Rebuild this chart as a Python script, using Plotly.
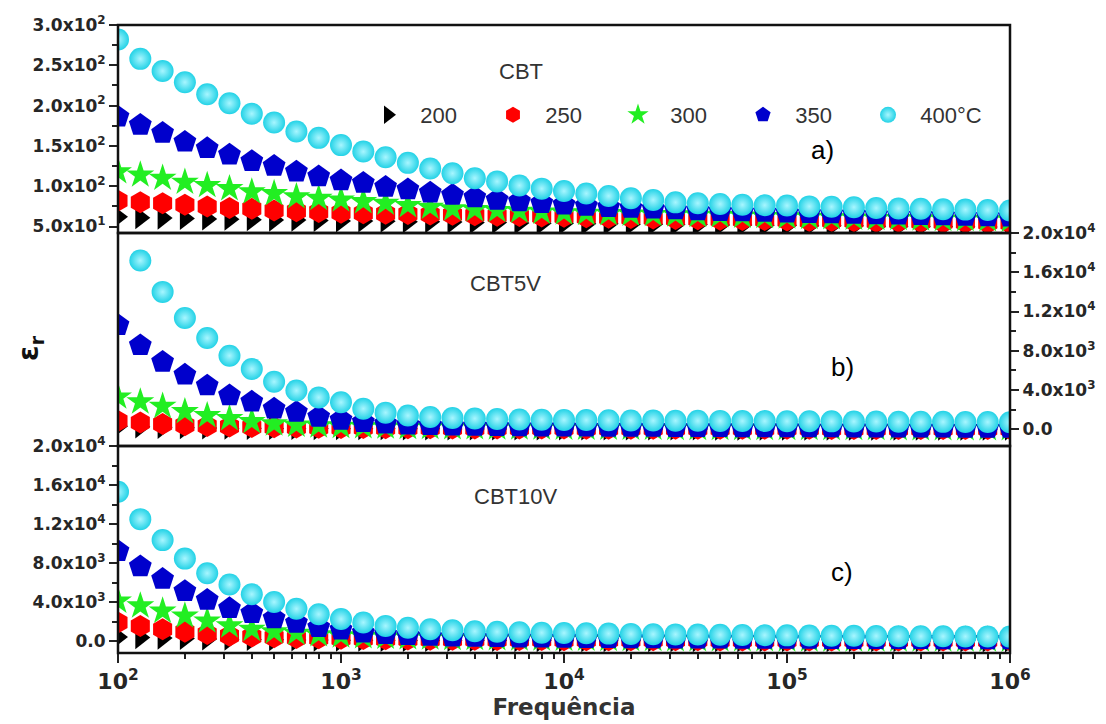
import plotly.graph_objects as go

# ---------------- data ----------------
freq = [100, 125.9, 158.5, 199.5, 251.2, 316.2, 398.1, 501.2, 631.0, 794.3,
        1000, 1259, 1585, 1995, 2512, 3162, 3981, 5012, 6310, 7943,
        10000, 12589, 15849, 19953, 25119, 31623, 39811, 50119, 63096, 79433,
        100000, 125893, 158489, 199526, 251189, 316228, 398107, 501187, 630957, 794328,
        1000000]

temps = ["200", "250", "300", "350", "400°C"]

# panel a) CBT
a200 = [62, 61, 60.5, 60, 59.5, 59, 58.5, 58, 58, 57.5, 57, 57, 56.5, 56, 56, 55.5, 55, 55, 54.5, 54,
        54, 53.5, 53.5, 53, 53, 52.5, 52.5, 52, 52, 51.5, 51.5, 51, 51, 51, 50.5, 50.5, 50, 50, 50, 49.5, 49.5]
a250 = [82, 80, 79, 77, 75, 73, 72, 70, 69, 68, 67, 66.5, 66, 65.5, 65, 64.5, 64, 63.5, 63, 62.5,
        62, 61.5, 61, 60.5, 60, 59.5, 59, 58.5, 58, 58, 57.5, 57, 57, 56.5, 56, 56, 55.5, 55, 55, 54.5, 54]
a300 = [118, 114, 110, 105, 101, 97, 93, 91, 87, 85, 83, 81, 79, 76, 74, 72, 71, 70, 69, 68,
        67, 66.5, 66, 65.5, 65, 64.5, 64, 63.5, 63, 62.5, 62, 61.5, 61, 60.5, 60, 60, 59.5, 59, 59, 58.5, 58]
a350 = [186, 176, 166, 155, 147, 139, 131, 125, 118, 112, 107, 104, 99, 96, 92, 89, 86, 83, 81, 79,
        77, 75.5, 74, 73, 72, 71, 70, 69, 68.5, 68, 67, 66.5, 66, 65.5, 65, 64.5, 64, 63.5, 63, 62.5, 62]
a400 = [282, 258, 243, 229, 214, 203, 190, 179, 168, 160, 151, 143, 136, 129, 122, 116, 110, 106, 101, 97,
        94, 91, 88, 85, 83, 80, 79, 78, 77, 76.5, 76, 75, 74.5, 74, 73, 72.5, 72, 71.5, 71, 70.5, 70]

# panel b) CBT5V
b200 = [300, 250, 200, 170, 140, 120, 100, 90, 80, 72, 65, 60, 55, 50, 46, 43, 40, 38, 36, 34,
        32, 30, 29, 28, 27, 26, 25, 24, 23, 22, 21, 20, 20, 19, 19, 18, 18, 17, 17, 16, 16]
b250 = [850, 700, 550, 420, 340, 280, 240, 200, 180, 160, 145, 130, 120, 110, 100, 95, 90, 85, 80, 76,
        72, 68, 65, 62, 60, 58, 56, 54, 52, 50, 48, 46, 45, 44, 43, 42, 41, 40, 39, 38, 37]
b300 = [3300, 2800, 2350, 1800, 1400, 1100, 800, 560, 430, 360, 310, 270, 240, 210, 190, 175, 165, 155, 145, 140,
        135, 130, 125, 120, 115, 110, 105, 100, 98, 96, 94, 92, 90, 88, 86, 84, 82, 80, 78, 76, 74]
b350 = [10600, 8550, 6850, 5550, 4450, 3450, 2800, 2100, 1750, 1250, 950, 720, 560, 470, 410, 370, 340, 310, 290, 270,
        260, 250, 240, 230, 220, 210, 200, 195, 190, 185, 180, 175, 170, 165, 160, 155, 150, 145, 140, 135, 130]
b400 = [22000, 17200, 14000, 11350, 9300, 7500, 6150, 4850, 3950, 3250, 2750, 2100, 1700, 1400, 1250, 1150, 1100, 1050, 1000, 980,
        960, 940, 920, 900, 890, 880, 870, 860, 850, 840, 830, 820, 810, 800, 790, 780, 770, 760, 750, 740, 730]

# panel c) CBT10V
c200 = [400, 350, 300, 250, 210, 180, 150, 130, 110, 95, 85, 75, 68, 62, 56, 52, 48, 45, 42, 40,
        38, 36, 34, 32, 30, 29, 28, 27, 26, 25, 24, 23, 22, 21, 20, 20, 19, 19, 18, 18, 17]
c250 = [1900, 1550, 1200, 950, 710, 550, 450, 380, 320, 270, 230, 200, 175, 155, 140, 130, 120, 110, 100, 95,
        90, 85, 80, 76, 72, 68, 65, 62, 60, 58, 56, 54, 52, 50, 48, 47, 46, 45, 44, 43, 42]
c300 = [4100, 3600, 3070, 2570, 2060, 1550, 1200, 950, 800, 650, 540, 460, 400, 350, 310, 280, 260, 240, 225, 210,
        200, 190, 180, 170, 160, 155, 150, 145, 140, 135, 130, 125, 120, 118, 116, 114, 112, 110, 108, 106, 104]
c350 = [9200, 7650, 6350, 5100, 4200, 3350, 2850, 2300, 1850, 1400, 1150, 850, 700, 580, 500, 440, 400, 370, 340, 320,
        300, 285, 270, 260, 250, 240, 230, 220, 210, 200, 195, 190, 185, 180, 175, 170, 165, 160, 155, 150, 145]
c400 = [15300, 12500, 10350, 8450, 6950, 5800, 4800, 4000, 3300, 2750, 2250, 1900, 1550, 1350, 1200, 1100, 1000, 950, 900, 850,
        820, 790, 760, 730, 700, 680, 660, 640, 620, 600, 580, 560, 545, 530, 515, 500, 490, 480, 470, 460, 450]

panel_labels = ["CBT", "CBT5V", "CBT10V"]
letters = ["a)", "b)", "c)"]

ya_ticks = [50, 100, 150, 200, 250, 300]
ya_text = ["5.0x10<sup>1</sup>", "1.0x10<sup>2</sup>", "1.5x10<sup>2</sup>",
           "2.0x10<sup>2</sup>", "2.5x10<sup>2</sup>", "3.0x10<sup>2</sup>"]
ybc_ticks = [0, 4000, 8000, 12000, 16000, 20000]
ybc_text = ["0.0", "4.0x10<sup>3</sup>", "8.0x10<sup>3</sup>", "1.2x10<sup>4</sup>",
            "1.6x10<sup>4</sup>", "2.0x10<sup>4</sup>"]
x_ticks = [1e2, 1e3, 1e4, 1e5, 1e6]
x_text = ["10<sup>2</sup>", "10<sup>3</sup>", "10<sup>4</sup>", "10<sup>5</sup>", "10<sup>6</sup>"]
x_minor = [m * 10 ** e for e in (2, 3, 4, 5) for m in (2, 3, 4, 5, 6, 7, 8, 9)]

# ---------------- styling ----------------
W, H = 1106, 724
L, R, T, B = 118, 96, 25, 71
PW, PH = W - L - R, H - T - B

def px(x):
    return (x - L) / PW

def py(y):
    return (H - B - y) / PH

styles = [
    dict(symbol="triangle-right", color="#000000", size=20),
    dict(symbol="hexagon", color="#ff0000", size=22),
    dict(symbol="star", color="#22ee22", size=21),
    dict(symbol="pentagon", color="#0000cc", size=24),
    dict(symbol="circle", color="#22d2e6", size=22, gradient=dict(type="radial", color="#a8f6ff")),
]

panels = [("y", [a200, a250, a300, a350, a400]),
          ("y2", [b200, b250, b300, b350, b400]),
          ("y3", [c200, c250, c300, c350, c400])]

fig = go.Figure()
for pi, (yax, series) in enumerate(panels):
    for si, vals in enumerate(series):
        st = styles[si]
        mk = dict(symbol=st["symbol"], color=st["color"], size=st["size"], line=dict(width=0))
        if "gradient" in st:
            mk["gradient"] = st["gradient"]
        fig.add_trace(go.Scatter(
            x=freq, y=vals, mode="markers", marker=mk, name="\u00a0\u00a0" + temps[si],
            xaxis="x", yaxis=yax, showlegend=(pi == 0), legendgroup=temps[si],
            cliponaxis=True))

tickfont_y = dict(family="DejaVu Sans", size=17, color="#262626", weight="bold")
common_y = dict(showgrid=False, zeroline=False, ticks="outside", ticklen=8, tickwidth=2,
                tickcolor="#222", showline=False, tickfont=tickfont_y, anchor="x")

dom_c = [0, 0.3296]
dom_b = [0.3296, 0.6688]
dom_a = [0.6688, 1]

fig.update_layout(
    width=W, height=H,
    margin=dict(l=L, r=R, t=T, b=B),
    paper_bgcolor="white", plot_bgcolor="white",
    font=dict(family="Liberation Sans, Arial, sans-serif", color="#333"),
    xaxis=dict(type="log", range=[2, 6], anchor="y3", showgrid=False, zeroline=False,
               ticks="outside", ticklen=9, tickwidth=2, tickcolor="#222",
               tickvals=x_ticks, ticktext=x_text,
               tickfont=dict(family="DejaVu Sans", size=22, color="#262626", weight="bold"),
               minor=dict(ticks="outside", ticklen=5, tickwidth=1.5, tickcolor="#222", tickvals=x_minor),
               title=dict(text="Frequência", standoff=2,
                          font=dict(family="DejaVu Sans", size=23, color="#333", weight="bold"))),
    yaxis=dict(domain=dom_a, range=[42, 300], tickvals=ya_ticks, ticktext=ya_text,
               minor=dict(ticks="outside", ticklen=5, tickwidth=1.5, tickcolor="#222", dtick=25, tick0=0),
               side="left", **common_y),
    yaxis2=dict(domain=dom_b, range=[-1700, 20000], tickvals=ybc_ticks, ticktext=ybc_text,
                minor=dict(ticks="outside", ticklen=5, tickwidth=1.5, tickcolor="#222", dtick=2000, tick0=0),
                side="right", **common_y),
    yaxis3=dict(domain=dom_c, range=[-1230, 20000], tickvals=ybc_ticks, ticktext=ybc_text,
                minor=dict(ticks="outside", ticklen=5, tickwidth=1.5, tickcolor="#222", dtick=2000, tick0=0),
                side="left", **common_y),
    legend=dict(orientation="h", x=px(368), xanchor="left", y=py(115), yanchor="middle",
                bgcolor="rgba(0,0,0,0)", font=dict(family="Liberation Sans, Arial", size=22, color="#333"),
                entrywidth=80, entrywidthmode="pixels", itemsizing="trace", tracegroupgap=0),
)

shapes = []
for yref in ("y", "y2", "y3"):
    shapes.append(dict(type="rect", xref="x domain", yref=yref + " domain", x0=0, x1=1, y0=0, y1=1,
                       line=dict(color="#111", width=2.5), layer="above"))
fig.update_layout(shapes=shapes)

ann = [
    dict(text=panel_labels[0], x=px(521), y=py(71), size=22),
    dict(text=panel_labels[1], x=px(505), y=py(283), size=22),
    dict(text=panel_labels[2], x=px(515), y=py(496), size=22),
]
for a in ann:
    fig.add_annotation(text=a["text"], x=a["x"], y=a["y"], xref="paper", yref="paper",
                       xanchor="center", yanchor="middle", showarrow=False,
                       font=dict(family="Liberation Sans, Arial", size=a["size"], color="#333"))
for txt, (xx, yy) in zip(letters, [(822, 150), (842, 367), (842, 572)]):
    fig.add_annotation(text=txt, x=px(xx), y=py(yy), xref="paper", yref="paper", showarrow=False,
                       xanchor="center", yanchor="middle",
                       font=dict(family="Liberation Sans Narrow, Liberation Sans, Arial", size=26, color="#000"))
fig.add_annotation(text="ε<sub>r</sub>", x=px(30), y=py(348), xref="paper", yref="paper", showarrow=False,
                   xanchor="center", yanchor="middle",
                   textangle=-90, font=dict(family="DejaVu Sans", size=28, color="#111", weight="bold"))

fig.write_html("out.html")
